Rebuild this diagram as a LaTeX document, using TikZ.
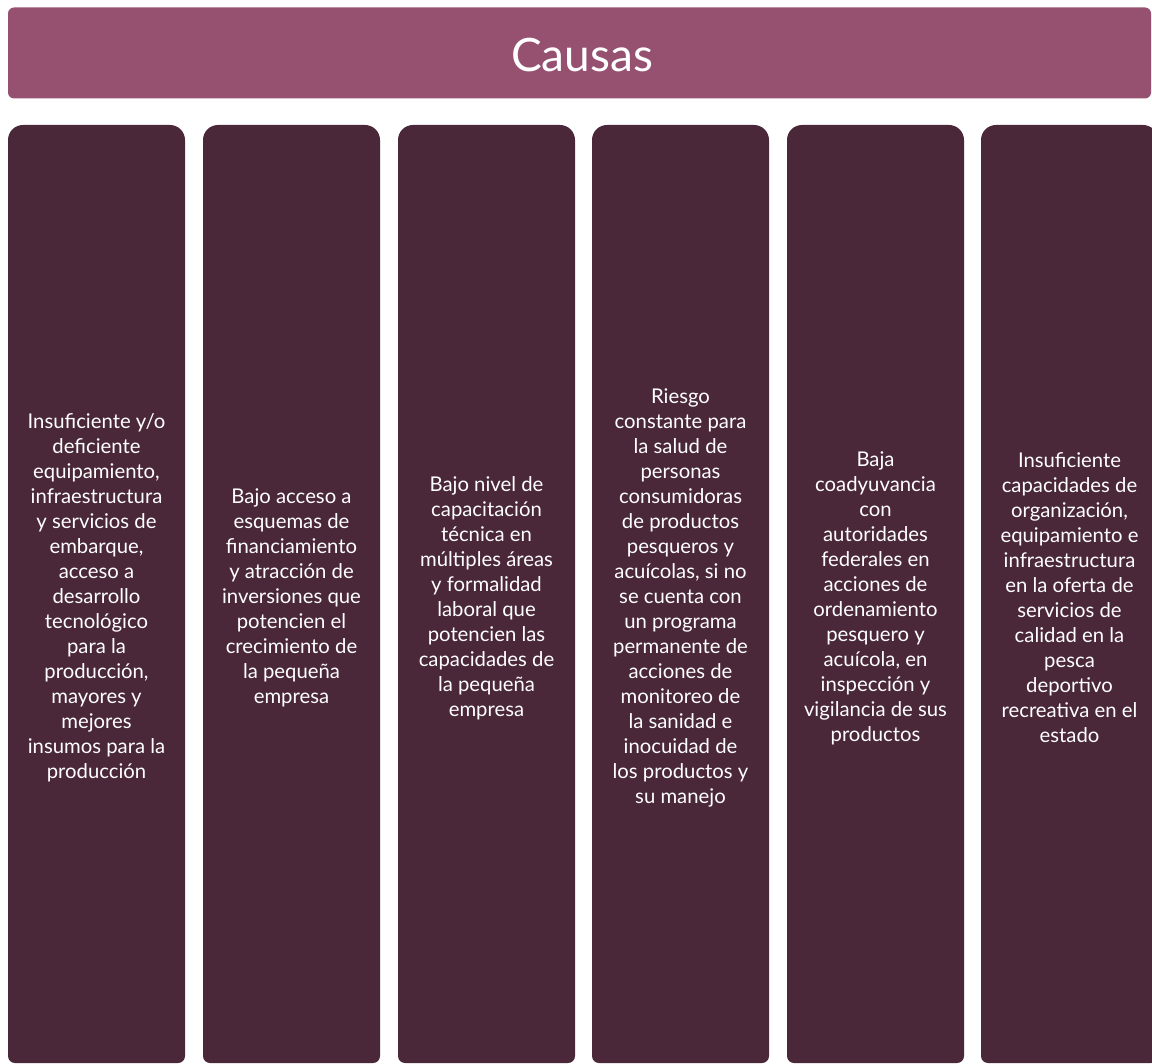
\documentclass[tikz,border=0pt]{standalone}
\usepackage{fontspec}
\setmainfont{Lato}
\definecolor{headcol}{RGB}{150,81,113}
\definecolor{colcol}{RGB}{74,40,57}
\begin{document}
\begin{tikzpicture}[x=1pt,y=-1pt,
  coltext/.style={text=white,align=center,font=\fontsize{20.3}{25}\selectfont,inner sep=0pt},
  headtext/.style={text=white,font=\fontsize{46}{52}\selectfont,inner sep=0pt}]
\useasboundingbox (0,0) rectangle (1152,1064);
\fill[headcol,rounded corners=6pt] (8,7.5) rectangle (1151,98.5);
\node[headtext] (head) at (582,55) {Causas};
\foreach \i/\x in {1/8,2/203,3/398,4/592,5/787,6/981}{
  \fill[colcol] (\x,600) [rounded corners=15pt] -- (\x,125) -- (\x+177,125) -- (\x+177,600)
     [rounded corners=7pt] -- (\x+177,1063) -- (\x,1063) -- cycle;
  \coordinate (c\i) at (\x+88.5,598);
}
\node[coltext] (t1) at (c1) {Insuficiente y/o\\deficiente\\equipamiento,\\infraestructura\\y servicios de\\embarque,\\acceso a\\desarrollo\\tecnológico\\para la\\producción,\\mayores y\\mejores\\insumos para la\\producción};
\node[coltext] (t2) at (c2) {Bajo acceso a\\esquemas de\\financiamiento\\y atracción de\\inversiones que\\potencien el\\crecimiento de\\la pequeña\\empresa};
\node[coltext] (t3) at (c3) {Bajo nivel de\\capacitación\\técnica en\\múltiples áreas\\y formalidad\\laboral que\\potencien las\\capacidades de\\la pequeña\\empresa};
\node[coltext] (t4) at (c4) {Riesgo\\constante para\\la salud de\\personas\\consumidoras\\de productos\\pesqueros y\\acuícolas, si no\\se cuenta con\\un programa\\permanente de\\acciones de\\monitoreo de\\la sanidad e\\inocuidad de\\los productos y\\su manejo};
\node[coltext] (t5) at (c5) {Baja\\coadyuvancia\\con\\autoridades\\federales en\\acciones de\\ordenamiento\\pesquero y\\acuícola, en\\inspección y\\vigilancia de sus\\productos};
\node[coltext] (t6) at (c6) {Insuficiente\\capacidades de\\organización,\\equipamiento e\\infraestructura\\en la oferta de\\servicios de\\calidad en la\\pesca\\deportivo\\recreativa en el\\estado};
\end{tikzpicture}
\end{document}
